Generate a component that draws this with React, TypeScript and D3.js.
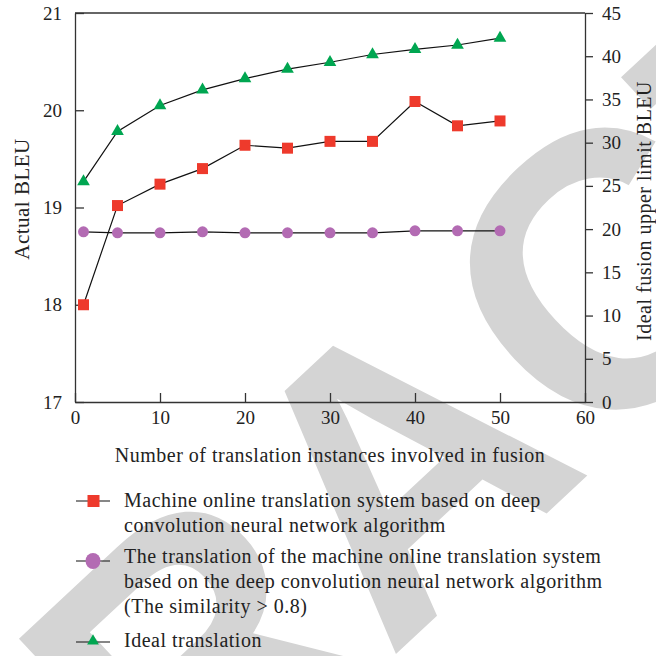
import * as d3 from "d3";
import { useEffect, useRef } from "react";

// x positions (number of translation instances)
const instances = [1, 5, 10, 15, 20, 25, 30, 35, 40, 45, 50];
// left axis series
const machineBleu = [18.0, 19.02, 19.24, 19.4, 19.64, 19.61, 19.68, 19.68, 20.09, 19.84, 19.89];
const similarBleu = [18.75, 18.74, 18.74, 18.75, 18.74, 18.74, 18.74, 18.74, 18.76, 18.76, 18.76];
// right axis series
const idealBleu = [25.5, 31.3, 34.3, 36.1, 37.4, 38.5, 39.3, 40.2, 40.8, 41.3, 42.1];

const xTicks = [0, 10, 20, 30, 40, 50, 60];
const leftTicks = [17, 18, 19, 20, 21];
const rightTicks = [0, 5, 10, 15, 20, 25, 30, 35, 40, 45];

const legendMachine = [
  "Machine online translation system based on deep",
  "convolution neural network algorithm",
];
const legendSimilar = [
  "The translation of the machine online translation system",
  "based on the deep convolution neural network algorithm",
  "(The similarity > 0.8)",
];
const legendIdeal = ["Ideal translation"];

const RED = "#ee3a2c";
const PURPLE = "#b36bb3";
const GREEN = "#00a651";
const FONT = "'Liberation Serif', 'Times New Roman', serif";

export default function App() {
  const ref = useRef<SVGSVGElement>(null);

  useEffect(() => {
    const svg = d3.select(ref.current);
    svg.selectAll("*").remove();

    const left = 75;
    const right = 585;
    const top = 13;
    const bottom = 402;

    // watermark behind everything
    const wm = svg
      .append("g")
      .attr("transform", "translate(396,462) rotate(-43)");
    const wmSize = 390;
    wm.append("text")
      .attr("x", -1.083 * wmSize)
      .attr("y", 0.36 * wmSize)
      .attr("font-family", "'Liberation Sans', Arial, sans-serif")
      .attr("font-weight", "bold")
      .attr("font-size", wmSize)
      .attr("fill", "#d4d4d4")
      .text("RACT");

    const xScale = d3.scaleLinear().domain([0, 60]).range([left, right]);
    const yLeft = d3.scaleLinear().domain([17, 21]).range([bottom, top]);
    const yRight = d3.scaleLinear().domain([0, 45]).range([bottom, top]);

    // top border
    svg
      .append("line")
      .attr("x1", left)
      .attr("x2", right)
      .attr("y1", top)
      .attr("y2", top)
      .attr("stroke", "#333")
      .attr("stroke-width", 1.3);

    // x axis, ticks inward
    const xAxis = svg
      .append("g")
      .attr("transform", `translate(0,${bottom})`)
      .call(d3.axisBottom(xScale).tickValues(xTicks).tickFormat(d3.format("d")).tickSizeInner(-9).tickSizeOuter(0).tickPadding(13));

    // left axis, ticks inward
    const leftAxis = svg
      .append("g")
      .attr("transform", `translate(${left},0)`)
      .call(d3.axisLeft(yLeft).tickValues(leftTicks).tickFormat(d3.format("d")).tickSizeInner(-9).tickSizeOuter(0).tickPadding(13));

    // right axis, ticks outward
    const rightAxis = svg
      .append("g")
      .attr("transform", `translate(${right},0)`)
      .call(d3.axisRight(yRight).tickValues(rightTicks).tickFormat(d3.format("d")).tickSizeInner(8).tickSizeOuter(0).tickPadding(9));

    [xAxis, leftAxis, rightAxis].forEach((a) => {
      a.select(".domain").attr("stroke", "#333").attr("stroke-width", 1.3);
      a.selectAll(".tick line").attr("stroke", "#333").attr("stroke-width", 1.3);
      a.selectAll("text")
        .attr("font-family", FONT)
        .attr("font-size", 19)
        .attr("fill", "#222");
    });
    xAxis.selectAll("text").attr("dy", "0.45em");

    const title = (sel: d3.Selection<SVGTextElement, unknown, null, undefined>) =>
      sel
        .attr("font-family", FONT)
        .attr("font-size", 20)
        .attr("letter-spacing", 0.5)
        .attr("fill", "#222");

    // axis titles
    svg
      .append("text")
      .attr("x", (left + right) / 2)
      .attr("y", 462)
      .attr("text-anchor", "middle")
      .call(title)
      .text("Number of translation instances involved in fusion");

    svg
      .append("text")
      .attr("transform", `translate(29,199) rotate(-90)`)
      .attr("text-anchor", "middle")
      .call(title)
      .attr("font-size", 21)
      .text("Actual BLEU");

    svg
      .append("text")
      .attr("transform", `translate(651,211) rotate(-90)`)
      .attr("text-anchor", "middle")
      .call(title)
      .text("Ideal fusion upper limit BLEU");

    const triangle = d3.symbol().type(d3.symbolTriangle).size(70);

    // lines
    const lineLeft = d3
      .line<number>()
      .x((d, i) => xScale(instances[i]))
      .y((d) => yLeft(d));
    const lineRight = d3
      .line<number>()
      .x((d, i) => xScale(instances[i]))
      .y((d) => yRight(d));

    svg.append("path").datum(similarBleu).attr("fill", "none").attr("stroke", "#111").attr("stroke-width", 1.2).attr("d", lineLeft);
    svg.append("path").datum(machineBleu).attr("fill", "none").attr("stroke", "#111").attr("stroke-width", 1.2).attr("d", lineLeft);
    svg.append("path").datum(idealBleu).attr("fill", "none").attr("stroke", "#111").attr("stroke-width", 1.2).attr("d", lineRight);

    // purple circles
    svg
      .selectAll(".similarPts")
      .data(similarBleu)
      .enter()
      .append("circle")
      .attr("cx", (d, i) => xScale(instances[i]))
      .attr("cy", (d) => yLeft(d))
      .attr("r", 5.5)
      .attr("fill", PURPLE);

    // red squares
    svg
      .selectAll(".machinePts")
      .data(machineBleu)
      .enter()
      .append("rect")
      .attr("x", (d, i) => xScale(instances[i]) - 5.5)
      .attr("y", (d) => yLeft(d) - 5.5)
      .attr("width", 11)
      .attr("height", 11)
      .attr("fill", RED);

    // green triangles
    svg
      .selectAll(".idealPts")
      .data(idealBleu)
      .enter()
      .append("path")
      .attr("transform", (d, i) => `translate(${xScale(instances[i])},${yRight(d)})`)
      .attr("d", triangle)
      .attr("fill", GREEN);

    // legend
    const legend = [
      { lines: legendMachine, y: 501, textY: 507, kind: "square" },
      { lines: legendSimilar, y: 561, textY: 563, kind: "circle" },
      { lines: legendIdeal, y: 642, textY: 647, kind: "triangle" },
    ];
    legend.forEach((item) => {
      const g = svg.append("g");
      g.append("line")
        .attr("x1", 76)
        .attr("x2", 110)
        .attr("y1", item.y)
        .attr("y2", item.y)
        .attr("stroke", "#111")
        .attr("stroke-width", 1.2);
      if (item.kind === "square") {
        g.append("rect").attr("x", 87.5).attr("y", item.y - 6).attr("width", 12).attr("height", 12).attr("fill", RED);
      } else if (item.kind === "circle") {
        g.append("ellipse").attr("cx", 93).attr("cy", item.y).attr("rx", 7.5).attr("ry", 8).attr("fill", PURPLE);
      } else {
        g.append("path").attr("transform", `translate(93,${item.y - 1})`).attr("d", d3.symbol().type(d3.symbolTriangle).size(60)).attr("fill", GREEN);
      }
      item.lines.forEach((t, i) => {
        g.append("text")
          .attr("x", 124)
          .attr("y", item.textY + i * 25)
          .call(title)
          .text(t);
      });
    });
  }, []);

  return (
    <svg
      ref={ref}
      width={656}
      height={656}
      style={{ position: "absolute", left: 0, top: 0, background: "#fff" }}
    />
  );
}
